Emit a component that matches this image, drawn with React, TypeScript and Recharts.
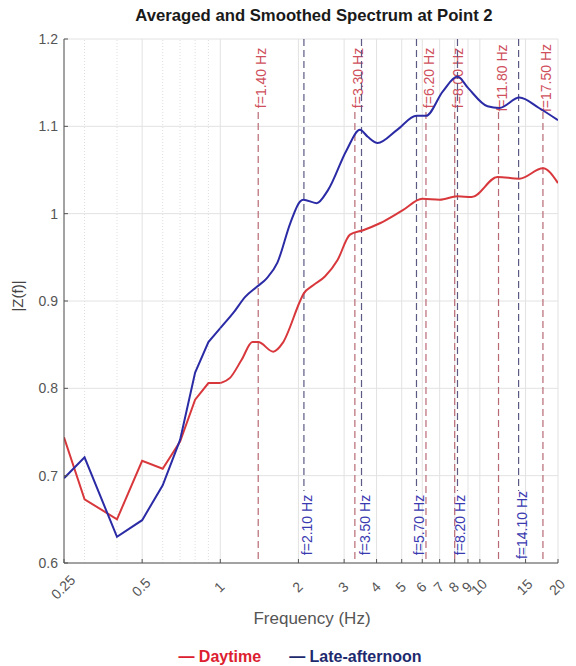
import { LineChart, Line, XAxis, YAxis, CartesianGrid, ReferenceLine } from "recharts";

// daytime curve
const dayFreq = [0.25, 0.3, 0.4, 0.5, 0.6, 0.7, 0.8, 0.9, 1.0, 1.09, 1.21, 1.33, 1.4, 1.6, 1.74, 2.03, 2.09, 2.28, 2.53, 2.83, 3.16, 3.55, 4.12, 5.05, 6.0, 7.0, 8.2, 9.3, 11.7, 14.2, 17.5, 20];
const dayMag = [0.744, 0.673, 0.65, 0.717, 0.708, 0.739, 0.787, 0.806, 0.806, 0.812, 0.833, 0.853, 0.853, 0.842, 0.852, 0.9, 0.908, 0.918, 0.928, 0.947, 0.976, 0.981, 0.989, 1.004, 1.017, 1.016, 1.02, 1.019, 1.042, 1.04, 1.052, 1.035];

// late-afternoon curve
const lateFreq = [0.25, 0.3, 0.4, 0.5, 0.6, 0.7, 0.8, 0.9, 1.0, 1.12, 1.25, 1.38, 1.51, 1.66, 1.86, 2.03, 2.09, 2.35, 2.6, 3.07, 3.45, 3.7, 4.04, 4.8, 5.7, 6.2, 7.2, 8.2, 9.0, 10.7, 11.9, 14.2, 16.9, 20];
const lateMag = [0.697, 0.721, 0.63, 0.649, 0.689, 0.741, 0.818, 0.853, 0.869, 0.886, 0.905, 0.916, 0.926, 0.944, 0.989, 1.014, 1.016, 1.012, 1.027, 1.073, 1.096, 1.088, 1.081, 1.096, 1.112, 1.112, 1.14, 1.157, 1.144, 1.123, 1.121, 1.133, 1.121, 1.107];

const dayPeaks = [1.4, 3.3, 6.2, 8.0, 11.8, 17.5];
const latePeaks = [2.1, 3.5, 5.7, 8.2, 14.1];

const xTicks = [0.25, 0.5, 1, 2, 3, 4, 5, 6, 7, 8, 9, 10, 15, 20];
const minorTicks = [0.3, 0.4, 0.6, 0.7, 0.8, 0.9];
const yTicks = [0.6, 0.7, 0.8, 0.9, 1, 1.1, 1.2];

// below 1 Hz the curves are plain straight segments, above it they are smoothed
const SPLIT = 1.0;
const dayData = dayFreq.map((f, i) => ({ f, v: dayMag[i] }));
const lateData = lateFreq.map((f, i) => ({ f, v: lateMag[i] }));
const dayLow = dayData.filter((d) => d.f <= SPLIT);
const dayHigh = dayData.filter((d) => d.f >= SPLIT);
const lateLow = lateData.filter((d) => d.f <= SPLIT);
const lateHigh = lateData.filter((d) => d.f >= SPLIT);

const FONT = "'Liberation Sans', Arial, sans-serif";
const RED = "#d8383c";
const BLUE = "#2b2ba6";
const LABEL_LEN = 66;

function peakShape(freq: number, lineColor: string, textColor: string, atTop: boolean) {
  return (props: any) => {
    const { x1, y1, y2 } = props;
    const top = Math.min(y1, y2);
    const bottom = Math.max(y1, y2);
    const gapStart = atTop ? top + 6 : bottom - 5 - LABEL_LEN;
    const gapEnd = gapStart + LABEL_LEN;
    const tx = x1 + 3;
    const ty = (gapStart + gapEnd) / 2;
    return (
      <g>
        <line
          x1={x1}
          x2={x1}
          y1={atTop ? gapEnd + 1 : top}
          y2={atTop ? bottom : gapStart - 1}
          stroke={lineColor}
          strokeWidth={1.2}
          strokeDasharray="7 4"
        />
        <text
          x={tx}
          y={ty}
          transform={`rotate(-90, ${tx}, ${ty})`}
          textAnchor="middle"
          dominantBaseline="central"
          fontSize={14}
          fontFamily={FONT}
          fill={textColor}
        >
          {`f=${freq.toFixed(2)} Hz`}
        </text>
      </g>
    );
  };
}

const XTick = (props: any) => {
  const { x, payload } = props;
  const cy = 587;
  return (
    <text
      x={x - 1}
      y={cy}
      transform={`rotate(-45, ${x - 1}, ${cy})`}
      textAnchor="middle"
      dominantBaseline="central"
      fontSize={14}
      fontFamily={FONT}
      fill="#555"
    >
      {payload.value}
    </text>
  );
};

export default function App() {
  return (
    <div style={{ position: "absolute", left: 0, top: 0, width: 576, height: 666, background: "#fff", fontFamily: FONT }}>
      <div style={{ position: "absolute", top: 5, left: 64, width: 500, textAlign: "center", fontSize: 16.7, lineHeight: "22px", fontWeight: "bold", color: "#1a1a1a" }}>
        Averaged and Smoothed Spectrum at Point 2
      </div>

      <LineChart width={576} height={666} margin={{ top: 39, right: 18, bottom: 63, left: 0 }}>
        <CartesianGrid stroke="#e2e2e2" strokeWidth={1} />

        {minorTicks.map((t) => (
          <ReferenceLine key={"m" + t} x={t} stroke="#dedede" strokeDasharray="1 2" />
        ))}

        <XAxis
          dataKey="f"
          type="number"
          scale="log"
          domain={[0.25, 20]}
          ticks={xTicks}
          allowDataOverflow
          height={40}
          stroke="#555"
          tickSize={-4}
          tickMargin={8}
          tick={<XTick />}
          interval={0}
        />
        <XAxis
          xAxisId="top"
          orientation="top"
          dataKey="f"
          type="number"
          scale="log"
          domain={[0.25, 20]}
          ticks={xTicks}
          allowDataOverflow
          height={0}
          stroke="#555"
          tickSize={-4}
          tick={false}
        />
        <YAxis
          type="number"
          domain={[0.6, 1.2]}
          ticks={yTicks}
          width={64}
          stroke="#555"
          tickSize={-4}
          tickMargin={10}
          tick={{ fill: "#555", fontSize: 14, fontFamily: FONT }}
          tickFormatter={(v: number) => String(v)}
        />
        <YAxis
          yAxisId="right"
          orientation="right"
          type="number"
          domain={[0.6, 1.2]}
          ticks={yTicks}
          width={0}
          stroke="#555"
          tickSize={-4}
          tick={false}
        />

        {dayPeaks.map((p) => (
          <ReferenceLine key={"d" + p} x={p} stroke="#b86a74" shape={peakShape(p, "#b86a74", "#cf4f5c", true)} />
        ))}
        {latePeaks.map((p) => (
          <ReferenceLine key={"l" + p} x={p} stroke="#5a5a84" shape={peakShape(p, "#5a5a84", "#3a3ab0", false)} />
        ))}

        <Line data={dayLow} dataKey="v" type="linear" stroke={RED} strokeWidth={2} dot={false} isAnimationActive={false} />
        <Line data={dayHigh} dataKey="v" type="monotone" stroke={RED} strokeWidth={2} dot={false} isAnimationActive={false} />
        <Line data={lateLow} dataKey="v" type="linear" stroke={BLUE} strokeWidth={2} dot={false} isAnimationActive={false} />
        <Line data={lateHigh} dataKey="v" type="monotone" stroke={BLUE} strokeWidth={2} dot={false} isAnimationActive={false} />
      </LineChart>

      <div
        style={{
          position: "absolute",
          left: 17,
          top: 296,
          transform: "translate(-50%, -50%) rotate(-90deg)",
          fontSize: 15,
          color: "#444",
          whiteSpace: "nowrap",
        }}
      >
        |Z(f)|
      </div>

      <div style={{ position: "absolute", top: 608, left: 64, width: 496, textAlign: "center", fontSize: 17, lineHeight: "22px", color: "#555" }}>
        Frequency (Hz)
      </div>

      <div style={{ position: "absolute", top: 646, left: 0, width: 600, textAlign: "center", fontSize: 16, lineHeight: "22px", fontWeight: "bold" }}>
        <span style={{ color: "#dd2030" }}>— Daytime</span>
        <span style={{ display: "inline-block", width: 28 }} />
        <span style={{ color: "#1e2a6e" }}>— Late-afternoon</span>
      </div>
    </div>
  );
}
